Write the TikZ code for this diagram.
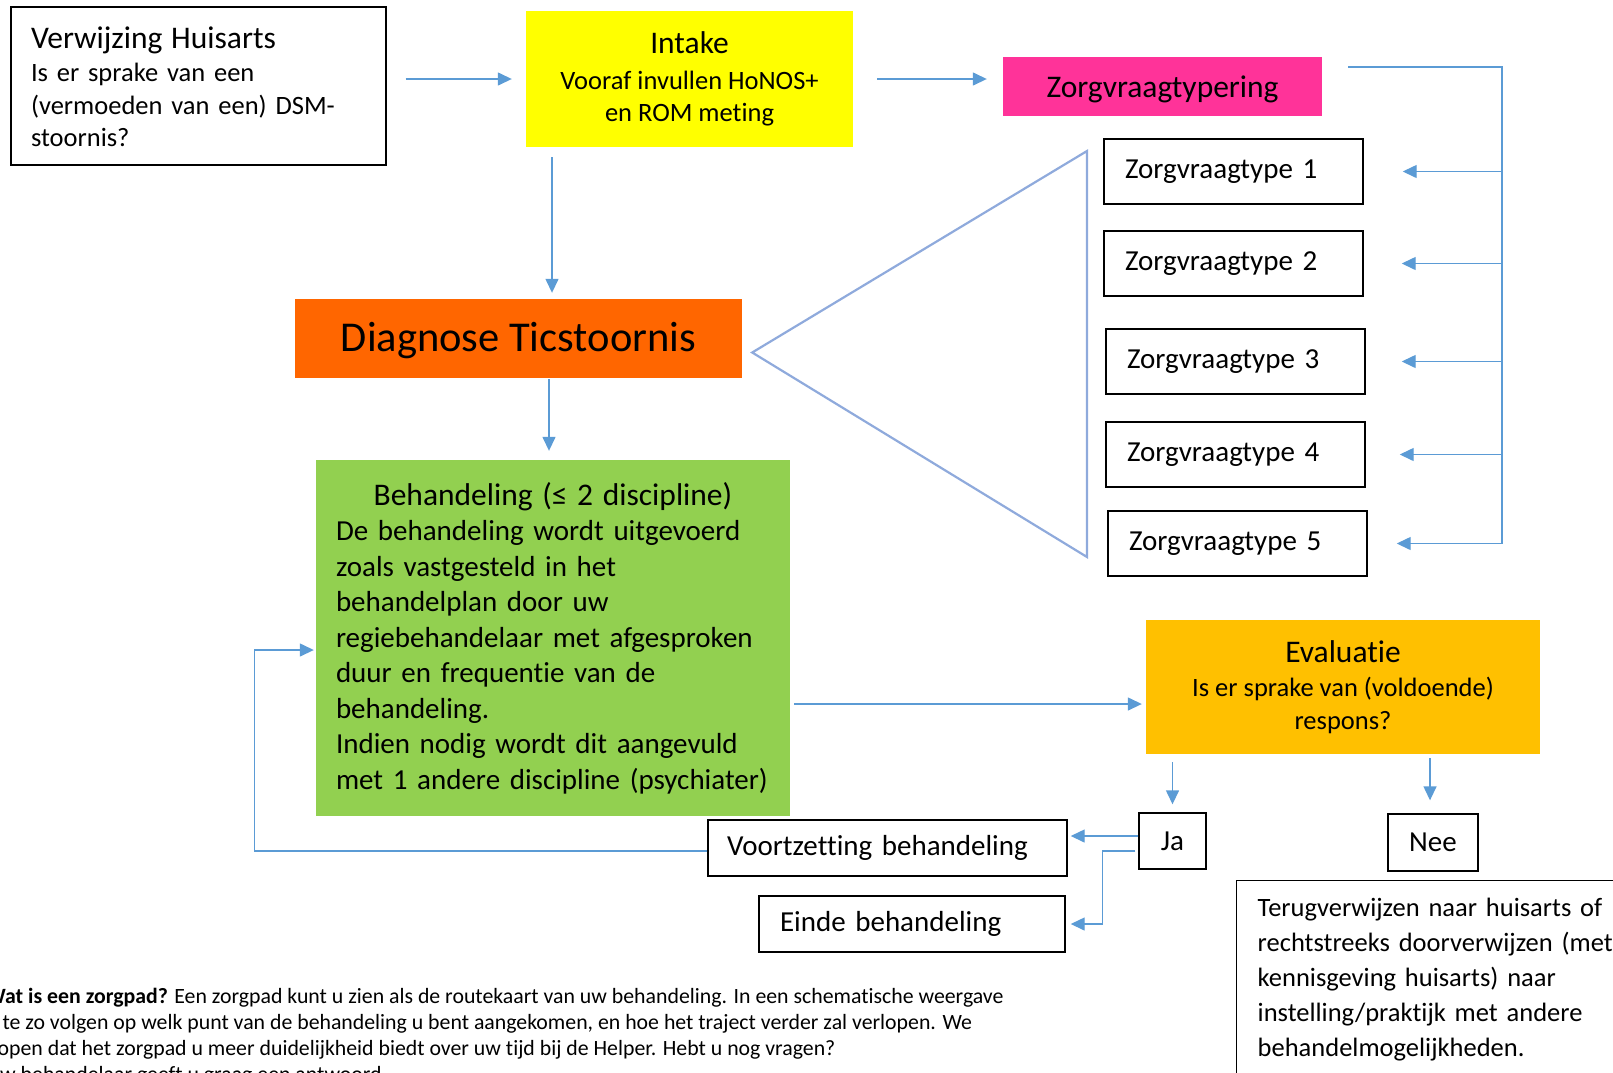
\documentclass[tikz,border=0pt]{standalone}
\usepackage{fontspec}
\setmainfont{Carlito}[Ligatures=NoCommon]
\usetikzlibrary{arrows.meta}

\definecolor{pijlblauw}{HTML}{5B9BD5}
\definecolor{lichtblauw}{HTML}{8FAADC}
\definecolor{roze}{HTML}{FF3399}
\definecolor{geel}{HTML}{FFFF00}
\definecolor{oranje}{HTML}{FF6600}
\definecolor{groen}{HTML}{92D050}
\definecolor{goud}{HTML}{FFC000}

\newcommand{\fgroot}{\fontsize{42.5}{52}\selectfont}
\newcommand{\fkop}{\fontsize{31.5}{38.5}\selectfont}
\newcommand{\fnorm}{\fontsize{29}{35.5}\selectfont}
\newcommand{\fklein}{\fontsize{26.5}{32.5}\selectfont}
\newcommand{\fterug}{\fontsize{26.5}{35}\selectfont}
\newcommand{\fvoet}{\fontsize{21.8}{26}\selectfont}
\newcommand{\omlaag}[2]{\raisebox{-#1}[\height][\depth]{#2}}

\tikzset{
    kader/.style={draw=black,line width=1.4pt,inner sep=0pt},
    vlak/.style={inner sep=0pt},
    pijl/.style={->,draw=pijlblauw,line width=1.4pt},
    lijn/.style={draw=pijlblauw,line width=1.4pt}
}

\begin{document}
\begin{tikzpicture}[x=1pt,y=-1pt,>={Triangle[length=14pt,width=13pt]},font=\fnorm]
    \useasboundingbox (0,0) rectangle (1613,1072);
    \clip (0,0) rectangle (1613,1072);

    % bovenste rij
    \node[kader,minimum width=375pt,minimum height=158pt,text width=335pt,align=left,font=\fklein] (verw) at (198.5,86)
        {{\fkop\omlaag{2pt}{Verwijzing Huisarts}}\\[3pt]Is er sprake van een\\(vermoeden van een) DSM-\\stoornis?};
    \node[vlak,fill=geel,minimum width=327pt,minimum height=136pt,align=center,font=\fklein] (intake) at (689.5,79)
        {{\fkop Intake}\\[3pt]Vooraf invullen HoNOS+\\en ROM meting};
    \node[vlak,fill=roze,minimum width=319pt,minimum height=59pt,font=\fkop] (typering) at (1162.5,86.5) {\omlaag{3pt}{Zorgvraagtypering}};

    % zorgvraagtypes
    \foreach \i/\x/\y in {1/1233.5/171.5,2/1233.5/263.5,3/1235.5/361.5,4/1235.5/454.5,5/1237.5/543.5}
        \node[kader,minimum width=259pt,minimum height=65pt,text width=217pt,align=left] (zt\i) at (\x,\y) {Zorgvraagtype \i};

    \node[vlak,fill=oranje,minimum width=447pt,minimum height=79pt,font=\fgroot] (diag) at (518.5,338.5) {\omlaag{2pt}{Diagnose Ticstoornis}};

    \node[vlak,fill=groen,minimum width=474pt,minimum height=356pt,text width=434pt,align=left] (behandeling) at (553,638)
        {{\centering\fkop Behandeling (≤ 2 discipline)\par}De behandeling wordt uitgevoerd\\zoals vastgesteld in het\\behandelplan door uw\\regiebehandelaar met afgesproken\\duur en frequentie van de\\behandeling.\\Indien nodig wordt dit aangevuld\\met 1 andere discipline (psychiater)};

    \node[vlak,fill=goud,minimum width=394pt,minimum height=134pt,align=center,font=\fklein] (evaluatie) at (1343,687)
        {{\fkop Evaluatie}\\[2pt]Is er sprake van (voldoende)\\respons?};

    \node[kader,minimum width=67pt,minimum height=56pt] (ja) at (1172.5,841) {Ja};
    \node[kader,minimum width=90pt,minimum height=57pt] (nee) at (1433,842.5) {Nee};
    \node[kader,minimum width=359pt,minimum height=56pt,text width=321pt,align=left] (voortzetting) at (887.5,848) {Voortzetting behandeling};
    \node[kader,minimum width=306pt,minimum height=56pt,text width=264pt,align=left] (einde) at (912,924) {Einde behandeling};
    \node[kader,anchor=north west,minimum width=420pt,minimum height=198pt,text width=378pt,align=left,font=\fterug] (terug) at (1236,880)
        {Terugverwijzen naar huisarts of\\rechtstreeks doorverwijzen (met\\kennisgeving huisarts) naar\\instelling/praktijk met andere\\behandelmogelijkheden.};

    \node[anchor=north west,inner sep=0pt,align=left,font=\fvoet] (uitleg) at (-14,988)
        {\textbf{Wat is een zorgpad?} Een zorgpad kunt u zien als de routekaart van uw behandeling. In een schematische weergave\\
         u te zo volgen op welk punt van de behandeling u bent aangekomen, en hoe het traject verder zal verlopen. We\\
         hopen dat het zorgpad u meer duidelijkheid biedt over uw tijd bij de Helper. Hebt u nog vragen?\\
         Uw behandelaar geeft u graag een antwoord.};

    % driehoek naar de zorgvraagtypes
    \draw[lichtblauw,line width=2.2pt] (diag.east) ++(10,14) -- (1087,151) -- (1087,557) -- cycle;

    % pijlen
    \draw[pijl,shorten <=19pt,shorten >=14pt] (intake.west -| verw.east) -- (intake.west);
    \draw[pijl,shorten <=24pt,shorten >=16pt] (intake.east) -- (intake.east -| typering.west);

    \coordinate (rail) at (1502,67);
    \draw[lijn] (typering.east |- rail) ++(26,0) -- (rail) -- (rail |- zt5.east);
    \foreach \i/\s in {1/39,2/38,3/36,4/34,5/29}
        \draw[pijl,shorten >=\s pt] (rail |- zt\i.east) -- (zt\i.east);

    \coordinate (c1) at ([xshift=-137.5pt]intake.south);
    \draw[pijl,shorten <=10pt,shorten >=6pt] (c1) -- (c1 |- diag.north);
    \coordinate (c2) at ([xshift=30.5pt]diag.south);
    \draw[pijl,shorten <=1pt,shorten >=9pt] (c2) -- (c2 |- behandeling.north);

    \coordinate (c3) at ([yshift=-17pt]evaluatie.west);
    \draw[pijl,shorten <=4pt,shorten >=4pt] (c3 -| behandeling.east) -- (c3);

    \draw[pijl,shorten <=8pt,shorten >=8pt] (ja.north |- evaluatie.south) -- (ja.north);
    \coordinate (c4) at ([xshift=-3pt]nee.north);
    \draw[pijl,shorten <=4pt,shorten >=13pt] (c4 |- evaluatie.south) -- (c4);

    \coordinate (c5) at ([yshift=5pt]ja.west);
    \draw[pijl,shorten >=3pt] (c5) -- (c5 -| voortzetting.east);
    \coordinate (c6) at ([yshift=-10pt,xshift=-3pt]ja.west);
    \draw[pijl,shorten >=5pt] (c6) -- ++(-33,0) |- (einde.east);

    \coordinate (c7) at ([yshift=-12pt]behandeling.west);
    \draw[pijl,shorten >=2pt] ([yshift=-3pt]voortzetting.west) -- ++(-453,0) |- (c7);
\end{tikzpicture}
\end{document}
